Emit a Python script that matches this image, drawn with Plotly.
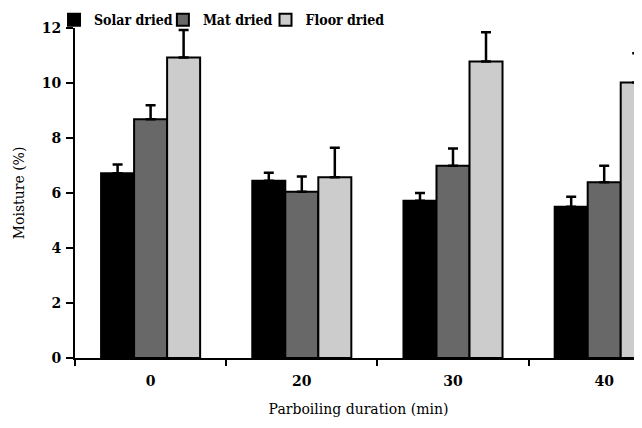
import plotly.graph_objects as go

categories = ["0", "20", "30", "40"]
solar = [6.72, 6.45, 5.72, 5.50]
mat = [8.68, 6.05, 6.99, 6.39]
floor = [10.93, 6.57, 10.78, 10.02]
solar_err = [0.32, 0.29, 0.28, 0.36]
mat_err = [0.51, 0.55, 0.63, 0.60]
floor_err = [1.00, 1.08, 1.07, 1.06]

names = ["Solar dried", "Mat dried", "Floor dried"]
colors = ["#000000", "#686868", "#cccccc"]
series = [solar, mat, floor]
errors = [solar_err, mat_err, floor_err]
legend_ids = ["legend", "legend2", "legend3"]
legend_x = [-0.037, 0.155, 0.336]

fig = go.Figure()
for name, col, vals, err, lid in zip(names, colors, series, errors, legend_ids):
    fig.add_trace(go.Bar(
        x=categories, y=vals, name=name, legend=lid,
        marker=dict(color=col, line=dict(color="#000000", width=2)),
        error_y=dict(type="data", symmetric=False, array=err,
                     arrayminus=[0] * len(err), color="#000000",
                     thickness=2.5, width=5),
    ))

font_family = "DejaVu Serif"
leg_common = dict(orientation="h", y=1.024, xanchor="left", yanchor="middle",
                  font=dict(size=14, weight="bold",
                            family="DejaVu Serif Condensed, DejaVu Serif"),
                  itemwidth=30, bgcolor="rgba(0,0,0,0)")
legends = {lid: dict(x=lx, **leg_common) for lid, lx in zip(legend_ids, legend_x)}

fig.update_layout(
    width=634, height=420,
    margin=dict(l=67, r=0, t=20, b=70, autoexpand=False),
    paper_bgcolor="white", plot_bgcolor="white",
    barmode="group", bargap=0.345, bargroupgap=0,
    font=dict(family=font_family, size=14, color="#000000"),
    showlegend=True,
    **legends,
    xaxis=dict(
        type="category", range=[-0.5, 3.25],
        showline=True, linecolor="#000000", linewidth=2,
        ticks="outside", tickson="boundaries", ticklen=6, tickwidth=2,
        tickcolor="#000000", showgrid=False, ticklabelstandoff=9,
        tickfont=dict(size=14, weight="bold", family=font_family),
        title=dict(text="Parboiling duration (min)",
                   font=dict(size=14, family=font_family), standoff=16),
    ),
    yaxis=dict(
        range=[0, 12], dtick=2, showline=True, linecolor="#000000", linewidth=2,
        ticks="outside", ticklen=7, tickwidth=2, tickcolor="#000000",
        showgrid=False, zeroline=False, ticklabelstandoff=2,
        tickfont=dict(size=14, weight="bold", family=font_family),
        title=dict(text="Moisture (%)", font=dict(size=14, family=font_family),
                   standoff=14),
    ),
)

fig.write_html("out.html")
